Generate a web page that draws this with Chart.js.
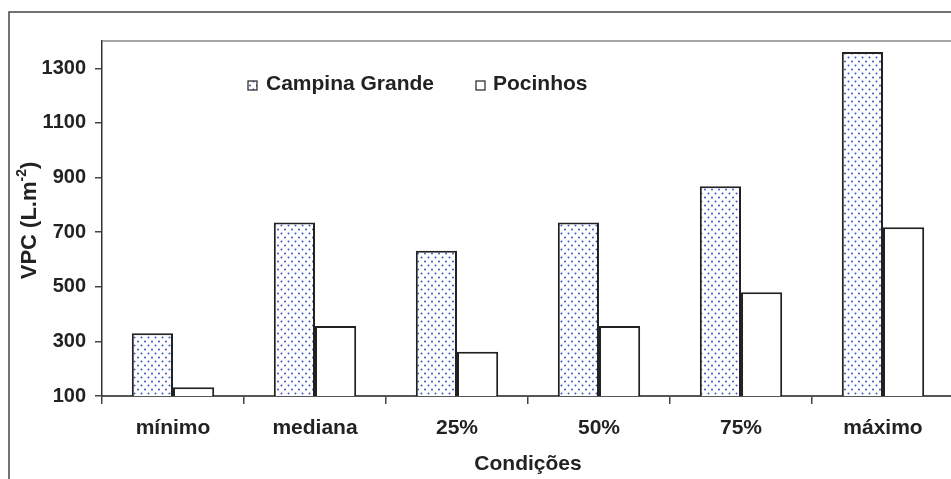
<!DOCTYPE html>
<html>
<head>
<meta charset="utf-8">
<script src="https://cdn.jsdelivr.net/npm/chart.js@4"></script>
<style>
  html, body { margin: 0; padding: 0; background: #fff; overflow: hidden; }
  #wrap { width: 960px; height: 479px; }
</style>
</head>
<body>
<div id="wrap"><canvas id="vpcChart" width="960" height="479"></canvas></div>
<script>
const categorias = ['mínimo', 'mediana', '25%', '50%', '75%', 'máximo'];
const campinaGrande = [330, 735, 632, 735, 868, 1360];
const pocinhos = [132, 356, 262, 356, 480, 718];
const yTicks = [100, 300, 500, 700, 900, 1100, 1300];

const FONT = '"Liberation Sans", Arial, sans-serif';

// trama pontilhada azul
function dotPattern() {
    const c = document.createElement('canvas');
    c.width = 7; c.height = 8;
    const g = c.getContext('2d');
    g.fillStyle = '#fff';
    g.fillRect(0, 0, 7, 8);
    g.fillStyle = 'rgb(55, 85, 200)';
    g.beginPath(); g.arc(1.5, 1.5, 1.0, 0, Math.PI * 2); g.fill();
    g.beginPath(); g.arc(5, 5.5, 1.0, 0, Math.PI * 2); g.fill();
    return document.getElementById('vpcChart').getContext('2d').createPattern(c, 'repeat');
}
const pattern = dotPattern();

const extras = {
    id: 'extras',
    afterDraw(chart) {
        const ctx = chart.ctx;
        const a = chart.chartArea;
        ctx.save();
        // moldura externa
        ctx.strokeStyle = '#444';
        ctx.lineWidth = 1.5;
        ctx.strokeRect(9, 12, 1000, 600);
        // borda superior da area
        ctx.strokeStyle = '#888';
        ctx.lineWidth = 1.5;
        ctx.beginPath(); ctx.moveTo(a.left, a.top); ctx.lineTo(a.right + 10, a.top); ctx.stroke();

        // legenda
        ctx.font = 'bold 21px ' + FONT;
        ctx.textBaseline = 'alphabetic';
        ctx.lineWidth = 1.2;
        ctx.strokeStyle = '#222';
        ctx.fillStyle = pattern;
        ctx.fillRect(248, 81, 9, 9);
        ctx.strokeRect(248, 81, 9, 9);
        ctx.fillStyle = '#fff';
        ctx.fillRect(476, 81, 9, 9);
        ctx.strokeRect(476, 81, 9, 9);
        ctx.fillStyle = '#222';
        ctx.fillText(chart.data.datasets[0].label, 266, 90);
        ctx.fillText(chart.data.datasets[1].label, 493, 90);

        // titulo eixo x
        ctx.font = 'bold 21px ' + FONT;
        ctx.textAlign = 'center';
        ctx.textBaseline = 'middle';
        ctx.fillText('Condições', (a.left + a.right) / 2, 464);

        // titulo eixo y com sobrescrito
        ctx.translate(30, (a.top + a.bottom) / 2 + 2);
        ctx.rotate(-Math.PI / 2);
        const big = 'bold 22px ' + FONT, small = 'bold 14px ' + FONT;
        ctx.font = big; const w1 = ctx.measureText('VPC (L.m').width;
        const w3 = ctx.measureText(')').width;
        ctx.font = small; const w2 = ctx.measureText('-2').width;
        let x = -(w1 + w2 + w3) / 2;
        ctx.textAlign = 'left';
        ctx.font = big; ctx.fillText('VPC (L.m', x, 0); x += w1;
        ctx.font = small; ctx.fillText('-2', x, -8); x += w2;
        ctx.font = big; ctx.fillText(')', x, 0);
        ctx.restore();
    }
};

new Chart(document.getElementById('vpcChart'), {
    type: 'bar',
    data: {
        labels: categorias,
        datasets: [
            {label: 'Campina Grande', data: campinaGrande, backgroundColor: pattern, borderColor: '#222', borderWidth: 2},
            {label: 'Pocinhos', data: pocinhos, backgroundColor: '#fff', borderColor: '#222', borderWidth: 2}
        ]
    },
    options: {
        responsive: false,
        animation: false,
        categoryPercentage: 0.58,
        barPercentage: 1.0,
        layout: {padding: {top: 41, right: 6, left: 0, bottom: 0}},
        plugins: {legend: {display: false}, tooltip: {enabled: false}},
        scales: {
            x: {
                offset: true,
                grid: {offset: true, drawOnChartArea: false, tickLength: 8, color: '#444', lineWidth: 1.5},
                border: {color: '#555', width: 2},
                ticks: {color: '#222', padding: 12, font: {family: FONT, size: 21, weight: 'bold'}},
                afterFit: s => { s.height = 83; }
            },
            y: {
                min: 100,
                max: 1400,
                grid: {drawOnChartArea: false, tickLength: 7, color: '#444', lineWidth: 1.5},
                border: {color: '#333', width: 1.5},
                ticks: {
                    color: '#222', padding: 9, stepSize: 200,
                    font: {family: FONT, size: 20, weight: 'bold'},
                    callback: v => String(v)
                },
                afterBuildTicks: s => { s.ticks = yTicks.map(v => ({value: v})); },
                afterFit: s => { s.width = 102; }
            }
        }
    },
    plugins: [extras]
});
</script>
</body>
</html>
